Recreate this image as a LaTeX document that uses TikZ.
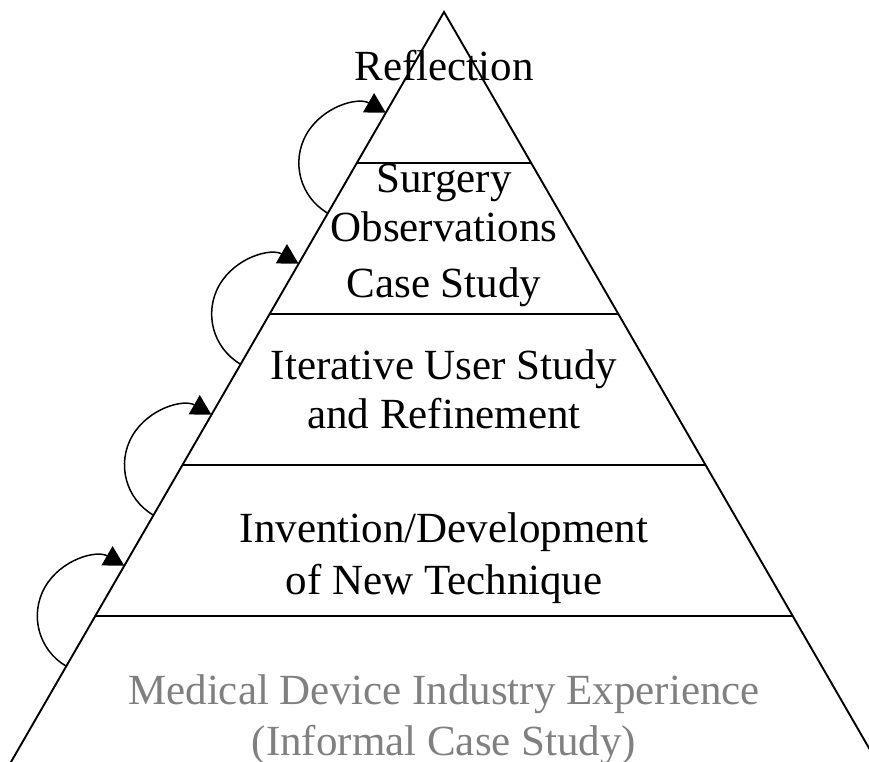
\documentclass[tikz,border=0pt]{standalone}
\usepackage{fontspec}
\setmainfont{Liberation Serif}
\usetikzlibrary{arrows.meta,calc}
\definecolor{basegray}{RGB}{128,128,128}
\begin{document}
\begin{tikzpicture}[x=1pt,y=1pt,
  side/.style={line width=1.9pt},
  tierline/.style={line width=1.9pt},
  label/.style={anchor=base,inner sep=0pt,font=\fontsize{43}{50}\selectfont},
  baselabel/.style={label,text=basegray},
  loopback/.style={line width=1.5pt,-{Triangle[length=20pt,width=22pt]}}]
  \useasboundingbox (0,0) rectangle (869,762);
  \clip (0,0) rectangle (869,762);

  % apex and the far ends of the two sides (equilateral, 151pt per tier)
  \coordinate (apex) at (444,750);
  \coordinate (bl) at ($(apex)+(240:900)$);
  \coordinate (br) at ($(apex)+(300:900)$);
  \draw[side] (bl) -- (apex) -- (br);

  % tier boundaries: left (Lk) and right (Rk) ends on the sides
  \foreach \k in {1,2,3,4}{
    \coordinate (L\k) at ($(apex)+(240:{151*\k/sin(60)})$);
    \coordinate (R\k) at ($(apex)+(300:{151*\k/sin(60)})$);
    \draw[tierline] (L\k) -- (R\k);
  }

  % looping arrows from each tier up into the next
  \foreach \k in {1,2,3,4}{
    \draw[loopback] ($(L\k)+(240:58)$) arc[start angle=240,end angle=60,radius=58];
  }

  % tier texts
  \node[label] (reflection) at (444,681) {Reflection};
  \node[label] (surgery) at (444,569) {Surgery};
  \node[label] (observations) at (444,520) {Observations};
  \node[label] (casestudy) at (444,464) {Case Study};
  \node[label] (iterative) at (444,382) {Iterative User Study};
  \node[label] (refinement) at (444,333) {and Refinement};
  \node[label] (invention) at (444,219) {Invention/Development};
  \node[label] (technique) at (444,167) {of New Technique};
  \node[baselabel] (industry) at (444,57) {Medical Device Industry Experience};
  \node[baselabel] (informal) at (444,6) {(Informal Case Study)};
\end{tikzpicture}
\end{document}
